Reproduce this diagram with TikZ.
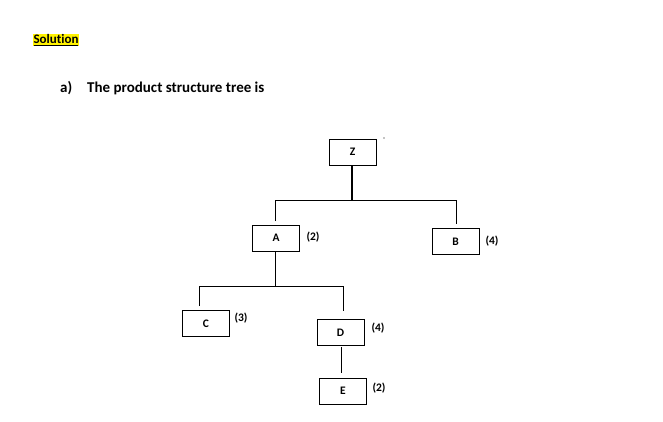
\documentclass[tikz,border=0pt]{standalone}
\usepackage{fontspec}
\setmainfont[Ligatures={NoCommon}]{Carlito}
\begin{document}
\begin{tikzpicture}[x=1pt,y=-1pt,
  box/.style={draw,line width=0.8pt,minimum width=47pt,minimum height=26pt,inner sep=0pt,font=\bfseries\fontsize{11.5}{12}\selectfont},
  qty/.style={inner sep=0pt,font=\bfseries\fontsize{11.5}{12}\selectfont},
  conn/.style={line width=1pt}]
\useasboundingbox (0,0) rectangle (663,421);
% heading
\node[anchor=west,inner sep=0.3pt,fill=yellow,font=\bfseries\fontsize{13}{14}\selectfont] (sol) at (33,40) {\underline{Solution}};
\node[anchor=west,inner sep=0pt,font=\bfseries\fontsize{15}{17}\selectfont] (a) at (60,88) {a)};
\node[anchor=west,inner sep=0pt,font=\bfseries\fontsize{15}{17}\selectfont] (title) at (87,88) {The product structure tree is};
% boxes
\node[box] (Z) at (352.5,152) {Z};
\node[box] (A) at (276,238) {A};
\node[box] (B) at (455.5,241.5) {B};
\node[box] (C) at (206,323.5) {C};
\node[box] (D) at (340.5,332.5) {D};
\node[box] (E) at (343,391) {E};
% quantities
\node[qty] (qA) at (313,237) {(2)};
\node[qty] (qB) at (492,241) {(4)};
\node[qty] (qC) at (241,318) {(3)};
\node[qty] (qD) at (378,328) {(4)};
\node[qty] (qE) at (379,388) {(2)};
% junctions
\coordinate (jz) at (352,200);
\coordinate (jl) at (275,200);
\coordinate (jr) at (456,200);
\coordinate (ta) at (275,221);
\coordinate (tb) at (456,224);
\coordinate (ja) at (275,286);
\coordinate (jc) at (199,286);
\coordinate (jd) at (343,286);
\coordinate (tc) at (199,306);
\coordinate (td) at (343,311);
\coordinate (de1) at (341,347);
\coordinate (de2) at (341,373);
% connectors
\draw[line width=1.8pt] (Z.south -| jz) -- (jz);
\draw[conn] (ta) -- (jl) -- (jr) -- (tb);
\draw[conn] (A.south -| ja) -- (ja);
\draw[conn] (tc) -- (jc) -- (jd) -- (td);
\draw[conn] (de1) -- (de2);
\fill (384,138) circle (0.6pt);
\end{tikzpicture}
\end{document}
